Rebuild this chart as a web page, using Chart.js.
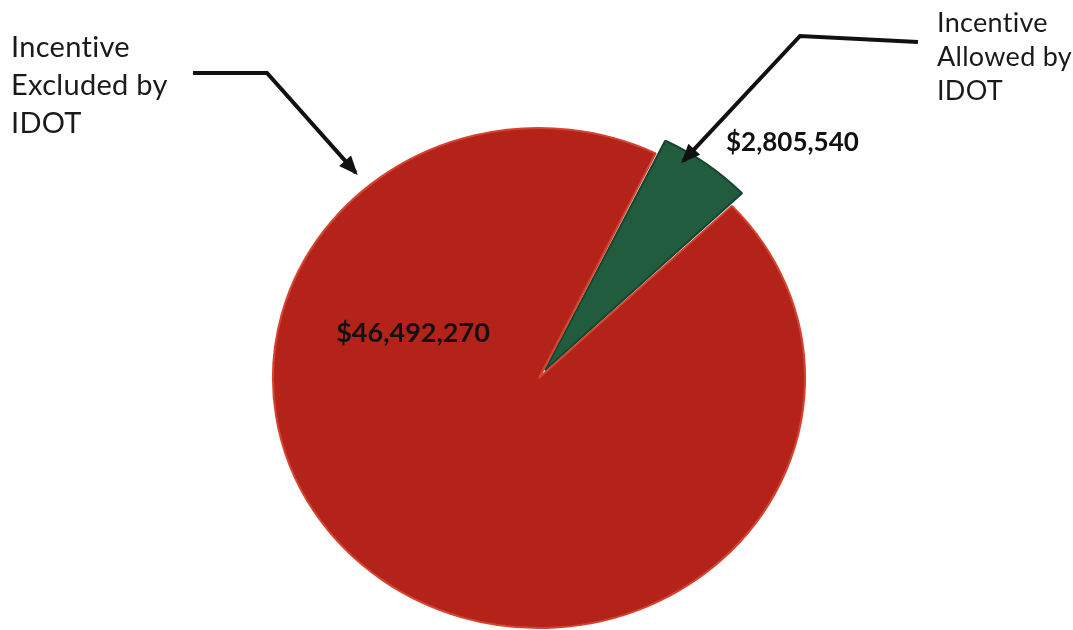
<!DOCTYPE html>
<html lang="en">
<head>
  <meta charset="UTF-8">
  <script src="https://cdn.jsdelivr.net/npm/chart.js"></script>
  <title>Incentive allowed vs excluded by IDOT</title>
  <style>
    html, body { margin: 0; padding: 0; background: #fff; }
    #wrap { width: 1073px; height: 630px; position: relative; }
  </style>
</head>
<body>
<div id="wrap"><canvas id="myChart" width="1073" height="630"></canvas></div>

<script>
  // data
  var sliceLabels = [['Incentive', 'Allowed by', 'IDOT'], ['Incentive', 'Excluded by', 'IDOT']];
  var sliceValues = [2805540, 46492270];
  var sliceColors = ['#215c3f', '#b3231a'];
  var sliceBorders = ['#17452f', '#d4432f'];
  var sliceOffsets = [38, 0];

  // the pie in the picture is a little wider than tall (tilted 3D look)
  var stretchX = 1.064;

  function money(v) {
    return '$' + v.toLocaleString('en-US');
  }

  // stretch only the slices sideways, text stays normal
  const stretchPlugin = {
    id: 'stretch',
    beforeDatasetsDraw(chart) {
      const arc = chart.getDatasetMeta(0).data[1];
      const c = chart.ctx;
      c.save();
      c.translate(arc.x, 0);
      c.scale(stretchX, 1);
      c.translate(-arc.x, 0);
    },
    afterDatasetsDraw(chart) {
      chart.ctx.restore();
    }
  };

  // arrows + text labels drawn on top of the pie
  const calloutPlugin = {
    id: 'callouts',
    afterDraw(chart) {
      const ctx = chart.ctx;
      const arcs = chart.getDatasetMeta(0).data;
      const small = arcs[0], big = arcs[1];

      function rimPoint(arc, deg, extra) {
        const a = (deg - 90) * Math.PI / 180;
        const x = arc.x + Math.cos(a) * (arc.outerRadius + extra);
        const y = arc.y + Math.sin(a) * (arc.outerRadius + extra);
        return { x: big.x + (x - big.x) * stretchX, y: y };
      }

      function arrow(pts) {
        ctx.save();
        ctx.strokeStyle = '#111';
        ctx.fillStyle = '#111';
        ctx.lineWidth = 4;
        ctx.lineJoin = 'miter';
        ctx.beginPath();
        ctx.moveTo(pts[0].x, pts[0].y);
        for (let i = 1; i < pts.length; i++) ctx.lineTo(pts[i].x, pts[i].y);
        ctx.stroke();
        const p = pts[pts.length - 1], q = pts[pts.length - 2];
        const ang = Math.atan2(p.y - q.y, p.x - q.x);
        const len = 16, wid = 8;
        ctx.beginPath();
        ctx.moveTo(p.x + Math.cos(ang) * 3, p.y + Math.sin(ang) * 3);
        ctx.lineTo(p.x - Math.cos(ang) * len - Math.sin(ang) * wid, p.y - Math.sin(ang) * len + Math.cos(ang) * wid);
        ctx.lineTo(p.x - Math.cos(ang) * len + Math.sin(ang) * wid, p.y - Math.sin(ang) * len - Math.cos(ang) * wid);
        ctx.closePath();
        ctx.fill();
        ctx.restore();
      }

      // left callout -> red slice
      arrow([{ x: 193, y: 73 }, { x: 267, y: 73 }, rimPoint(big, -40, 18)]);

      // right callout -> green slice
      arrow([{ x: 918, y: 42 }, { x: 800, y: 36 }, rimPoint(small, 32, 6)]);

      ctx.save();
      ctx.letterSpacing = '0.3px'; // keeps "ti" from turning into a ligature
      ctx.fillStyle = '#1a1a1a';
      ctx.textBaseline = 'alphabetic';
      ctx.textAlign = 'left';
      ctx.font = '29px Lato, "Open Sans", sans-serif';
      sliceLabels[1].forEach(function (line, i) {
        ctx.fillText(line, 11, 57 + i * 38);
      });
      ctx.font = '27px Lato, "Open Sans", sans-serif';
      sliceLabels[0].forEach(function (line, i) {
        ctx.fillText(line, 937, 32 + i * 34);
      });

      ctx.letterSpacing = '0px';
      ctx.fillStyle = '#111';
      ctx.font = 'bold 26px Lato, "Open Sans", sans-serif';
      ctx.fillText(money(sliceValues[0]), 726, 151);
      ctx.font = 'bold 27px Lato, "Open Sans", sans-serif';
      ctx.textAlign = 'center';
      ctx.fillText(money(sliceValues[1]), 413, 342);
      ctx.restore();
    }
  };

  const ctx = document.getElementById('myChart');
  new Chart(ctx, {
    type: 'pie',
    data: {
      labels: sliceLabels.map(function (l) { return l.join(' '); }),
      datasets: [{
        data: sliceValues,
        backgroundColor: sliceColors,
        borderColor: sliceBorders,
        borderWidth: 2,
        offset: sliceOffsets
      }]
    },
    options: {
      responsive: false,
      animation: false,
      rotation: 26,
      radius: 250,
      layout: { padding: { top: 126, left: 5 } },
      plugins: {
        legend: { display: false },
        tooltip: { enabled: false }
      }
    },
    plugins: [stretchPlugin, calloutPlugin]
  });
</script>
</body>
</html>
